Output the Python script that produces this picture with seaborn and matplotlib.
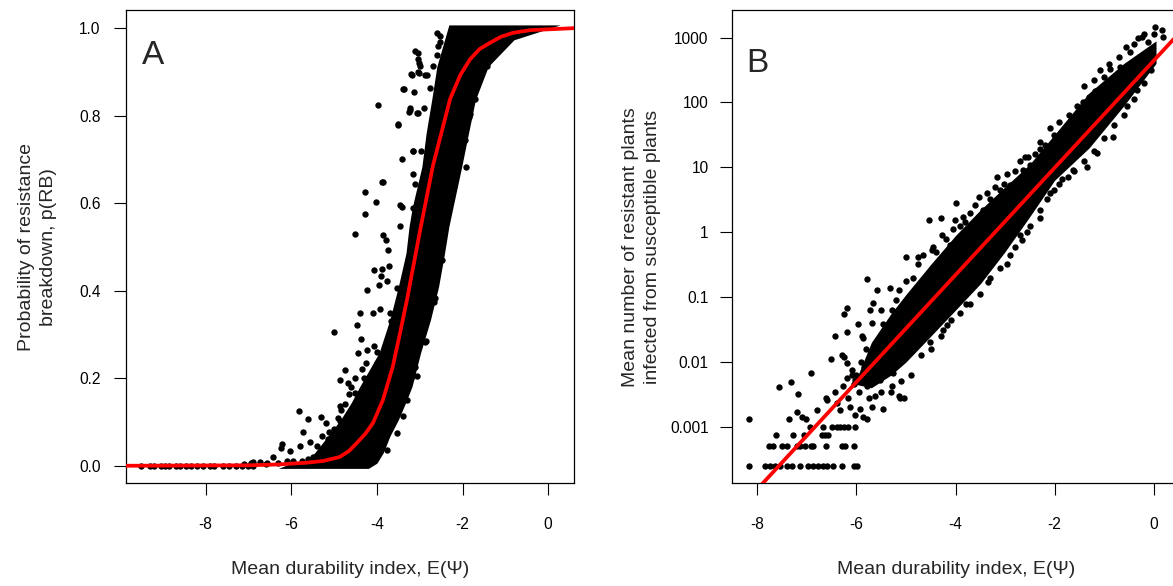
import numpy as np
import pandas as pd
import seaborn as sns
import matplotlib.pyplot as plt

# ---- panel A: probability of resistance breakdown ----
# dense core of the cloud (x range at each probability level)
a_band_y = [-0.006, 0.006, 0.014, 0.03, 0.067, 0.105, 0.144, 0.181, 0.258, 0.333, 0.409,
            0.486, 0.546, 0.592, 0.683, 0.76, 0.836, 0.912, 0.973, 1.007]
a_band_left = [-6.3, -6.0, -5.6, -5.45, -5.15, -4.85, -4.6, -4.4, -3.95, -3.7, -3.5,
               -3.32, -3.25, -3.17, -2.95, -2.85, -2.72, -2.6, -2.42, -2.32]
a_band_right = [-4.2, -4.0, -3.95, -3.85, -3.7, -3.5, -3.33, -3.18, -2.98, -2.75, -2.56,
                -2.42, -2.32, -2.22, -2.02, -1.86, -1.7, -1.4, -0.8, 0.28]

# scattered points around the core
a_pts_x = [-3.11, -3.03, -2.99, -3.19, -3.01, -2.84, -3.37, -3.13, -3.97, -3.23, -3.24, -3.03,
           -3.50, -3.15, -2.98, -3.42, -2.60, -2.53, -2.57, -2.68, -2.76,
           -3.87, -4.28, -4.01, -4.28, -4.51, -3.85, -3.79, -3.74, -3.46, -4.07, -3.87, -3.71,
           -3.91, -3.76, -4.23, -3.95, -3.54, -3.93, -3.46, -3.15, -3.11,
           -4.40, -4.09, -3.70, -5.01, -4.46, -3.66, -4.38, -4.06, -4.24, -4.44, -3.99, -4.26,
           -3.99, -4.75, -4.87, -4.67, -4.51, -4.65, -4.23, -4.02, -4.47, -4.87, -4.85, -5.82,
           -5.31, -5.61, -5.19, -4.87, -5.12, -5.72, -5.29, -5.57, -6.21, -6.23, -6.43, -6.04,
           -5.80, -6.89, -6.74, -6.57, -6.60, -6.30, -6.10,
           -2.88, -3.11, -2.95, -2.78, -2.45, -2.54, -2.64, -2.85, -3.07, -3.38, -3.54, -3.77,
           -1.75, -1.86, -1.94, -2.06, -1.43, -1.28, -2.21, -2.29, -2.41, -2.41, -2.49, -2.67,
           -1.92, -1.96, -2.10, -1.70, -1.82,
           -3.51, -3.85, -3.42, -3.15, -3.16, -3.38, -3.21, -3.03, -2.87, -3.03, -3.01, -2.52,
           -2.60, -2.48, -3.22, -3.07, -2.91,
           -5.50, -5.35, -5.20, -5.05, -4.95, -4.80, -4.70, -4.60, -4.55, -5.00, -5.15, -5.40,
           -5.60, -5.75, -5.95, -4.90, -4.75, -4.60, -4.50, -4.35, -4.30,
           -3.30, -3.20, -3.00, -2.80, -2.70, -2.35, -2.15, -1.60, -1.20,
           -9.50, -9.30, -9.20, -9.05, -8.95, -8.85, -8.70, -8.60, -8.45, -8.35, -8.20, -8.05,
           -7.90, -7.80, -7.60, -7.45, -7.30, -7.15, -7.00, -6.90, -7.10, -6.95]
a_pts_y = [0.948, 0.929, 0.913, 0.892, 0.897, 0.892, 0.860, 0.853, 0.824, 0.818, 0.809, 0.806,
           0.778, 0.720, 0.720, 0.701, 0.989, 0.982, 0.959, 0.913, 0.864,
           0.648, 0.626, 0.602, 0.576, 0.530, 0.526, 0.515, 0.492, 0.547, 0.448, 0.450, 0.456,
           0.433, 0.422, 0.402, 0.414, 0.407, 0.357, 0.595, 0.667, 0.644,
           0.349, 0.348, 0.349, 0.305, 0.322, 0.331, 0.289, 0.273, 0.264, 0.257, 0.260, 0.234,
           0.234, 0.219, 0.196, 0.188, 0.167, 0.163, 0.177, 0.179, 0.150, 0.137, 0.128, 0.124,
           0.112, 0.106, 0.097, 0.103, 0.078, 0.078, 0.067, 0.055, 0.050, 0.040, 0.021, 0.033,
           0.044, 0.008, 0.008, 0.006, 0.004, 0.006, 0.012,
           0.283, 0.226, 0.367, 0.364, 0.545, 0.470, 0.383, 0.284, 0.204, 0.113, 0.075, 0.037,
           0.839, 0.797, 0.744, 0.729, 0.912, 0.957, 0.638, 0.600, 0.573, 0.585, 0.469, 0.374,
           0.683, 0.777, 0.717, 0.838, 0.804,
           0.780, 0.649, 0.592, 0.588, 0.718, 0.860, 0.895, 0.900, 0.893, 0.942, 0.919, 0.969,
           0.938, 0.923, 0.813, 0.805, 0.817,
           0.020, 0.030, 0.025, 0.040, 0.050, 0.070, 0.090, 0.110, 0.125, 0.085, 0.060, 0.045,
           0.015, 0.010, 0.012, 0.110, 0.140, 0.180, 0.200, 0.220, 0.200,
           0.150, 0.200, 0.300, 0.400, 0.500, 0.700, 0.780, 0.920, 0.975,
           0.0, 0.0, 0.0, 0.0, 0.0, 0.0, 0.0, 0.0, 0.0, 0.0, 0.0, 0.0,
           0.0, 0.0, 0.0, 0.0, 0.0, 0.0, 0.0, 0.0, 0.004, 0.006]

# fitted curve
a_fit_x = [-9.9, -7.0, -6.3, -5.64, -5.25, -4.87, -4.65, -4.47, -4.27, -4.09, -3.86, -3.63,
           -3.46, -3.30, -2.99, -2.69, -2.60, -2.29, -2.05, -1.82, -1.60, -1.36, -1.10,
           -0.82, -0.42, 0.7]
a_fit_y = [0.0, 0.001, 0.003, 0.007, 0.011, 0.02, 0.034, 0.052, 0.073, 0.098, 0.15, 0.226,
           0.303, 0.378, 0.538, 0.686, 0.72, 0.838, 0.893, 0.929, 0.952, 0.966, 0.98,
           0.989, 0.995, 1.0]

# ---- panel B: resistant plants infected (log scale) ----
b_band_x = [-6.0, -5.7, -5.3, -5.0, -4.5, -4.0, -3.5, -3.0, -2.5, -2.0, -1.3, -0.6, 0.05]
b_band_lo = [0.0045, 0.004, 0.0063, 0.01, 0.025, 0.063, 0.16, 0.5, 1.74, 6.3, 20, 89, 400]
b_band_hi = [0.0055, 0.02, 0.056, 0.11, 0.32, 0.89, 2.2, 5.0, 11.2, 32, 141, 400, 890]

b_row1_x = [-8.17, -7.85, -7.75, -7.65, -7.55, -7.41, -7.30, -7.14, -6.98, -6.88, -6.78,
            -6.68, -6.60, -6.47, -6.30, -6.06, -5.99]
b_row2_x = [-7.76, -7.68, -7.51, -7.41, -7.21, -7.14, -7.04, -6.91, -6.88, -6.62, -6.30,
            -6.23, -6.06]
b_row3_x = [-7.63, -7.28, -7.07, -6.70, -6.64, -6.57]
b_row4_x = [-6.94, -6.67, -6.50, -6.40, -6.33, -6.25, -6.17, -6.03]
b_row_vals = [0.00025, 0.0005, 0.00075, 0.001]

b_pts_x = [-8.17, -7.36, -7.21, -7.11, -7.01, -6.79, -7.56, -7.33, -7.18, -6.91, -6.52,
           -6.43, -6.19, -6.29, -5.96, -5.69, -5.47, -5.89, -6.19, -6.10, -6.60, -6.40,
           -6.33, -6.13, -5.93, -5.79, -5.69, -6.03, -5.86, -6.20, -6.03, -5.79, -6.27,
           -6.43, -6.62, -6.17, -5.63, -5.46, -5.12, -5.05, -5.29, -5.53, -5.39, -5.26,
           -6.25, -6.20, -5.79, -5.59, -5.67, -5.73, -5.86, -5.28, -5.32, -5.14, -4.99,
           -4.75, -4.75, -5.14, -6.25, -3.99, -4.53, -4.30, -3.84, -3.81, -4.45, -4.48,
           -4.28, -4.11, -4.01, -3.52, -3.37, -3.20, -3.17, -3.03, -2.90, -3.44, -2.60,
           -2.49, -2.63, -3.34, -3.79, -4.18, -4.25, -4.52, -2.97, -2.66, -2.29, -2.80,
           -2.56, -2.53, -2.29, -2.19, -2.02, -1.97, -1.79, -1.59, -1.42, -1.30, -1.18,
           -1.08, -0.88, -0.81, -0.68, -0.47, -0.31, -0.11, 0.03, 0.17, 0.20, -0.24,
           -1.15, -1.35, -1.62, -1.72, -1.85, -0.81, -0.54, -0.34, -2.02, -2.16,
           # upper edge of the cloud
           -5.50, -5.20, -5.00, -4.85, -4.65, -4.40, -4.20, -4.05, -3.90, -3.70, -3.60,
           -3.30, -3.10, -2.95, -2.80, -2.70, -2.40, -2.30, -2.10, -1.90, -1.70, -1.55,
           -1.40, -1.20, -1.00, -0.90, -0.70, -0.55, -0.40, -0.20, 0.00,
           # lower edge of the cloud
           -5.50, -5.30, -5.10, -4.90, -4.70, -4.50, -4.30, -4.10, -3.90, -3.70, -3.50,
           -3.30, -3.10, -2.90, -2.70, -2.50, -2.30, -2.10, -1.90, -1.60, -1.40, -1.20,
           -1.00, -0.80, -0.60, -0.40, -0.20, -0.05,
           # sparse tail
           -5.90, -5.80, -5.60, -5.55, -5.70, -6.00, -5.95, -5.75, -5.50, -5.35, -5.20,
           -5.40, -5.10, -6.10, -5.85, -6.05]
b_pts_y = [0.0013, 0.0013, 0.0017, 0.0014, 0.0013, 0.0018, 0.0041, 0.0049, 0.0032, 0.0068, 0.011,
           0.025, 0.029, 0.013, 0.039, 0.040, 0.039, 0.025, 0.0095, 0.0076, 0.0026, 0.0023,
           0.0018, 0.0020, 0.0019, 0.0013, 0.0020, 0.0015, 0.0014, 0.0056, 0.0052, 0.0042, 0.0042,
           0.0035, 0.0028, 0.0028, 0.0030, 0.0019, 0.0028, 0.0028, 0.0042, 0.0052, 0.0068, 0.0068,
           0.055, 0.068, 0.19, 0.13, 0.081, 0.063, 0.023, 0.063, 0.14, 0.13, 0.42,
           0.41, 0.32, 0.0030, 0.012, 2.8, 1.55, 1.66, 1.74, 1.45, 0.60, 0.54,
           0.91, 0.63, 1.55, 3.5, 4.0, 5.0, 7.2, 5.6, 5.4, 2.2, 14.5,
           11, 9.1, 0.17, 0.079, 0.037, 0.031, 0.020, 0.32, 0.76, 1.66, 0.60,
           1.02, 14.5, 19.5, 22, 32, 29, 28, 54, 102, 123, 148,
           316, 324, 200, 355, 600, 980, 870, 1480, 1320, 1020, 1020,
           16.6, 10.2, 9.1, 7.2, 6.5, 29.5, 87, 155, 4.5, 3.2,
           0.063, 0.089, 0.18, 0.20, 0.45, 0.50, 0.79, 1.12, 1.26, 2.0, 2.6,
           3.2, 4.5, 7.9, 8.9, 12.6, 15.8, 25, 40, 50, 63, 89,
           178, 224, 251, 398, 501, 708, 794, 1122, 1122,
           0.0035, 0.0035, 0.005, 0.0063, 0.0126, 0.0158, 0.025, 0.045, 0.056, 0.079, 0.11,
           0.20, 0.28, 0.45, 0.89, 1.26, 2.2, 4.0, 5.6, 8.9, 12.6, 17.8,
           28, 45, 63, 112, 200, 316,
           0.01, 0.016, 0.0126, 0.0079, 0.0063, 0.0063, 0.0035, 0.0028, 0.01, 0.02, 0.028,
           0.032, 0.04, 0.0063, 0.0085, 0.0045]

# fitted line
b_fit_x = [-8.0, 0.6]
b_fit_y = [1.1e-4, 1370]

b_yticks = [0.001, 0.01, 0.1, 1, 10, 100, 1000]
b_yticklabels = ["0.001", "0.01", "0.1", "1", "10", "100", "1000"]

sns.set_style("ticks")
plt.rcParams['font.family'] = ['Liberation Sans', 'DejaVu Sans']
plt.rcParams['axes.unicode_minus'] = False

fig = plt.figure(figsize=(11.73, 5.86), dpi=100)
ax_a = fig.add_axes([0.1074, 0.1753, 0.3822, 0.8076])
ax_b = fig.add_axes([0.6238, 0.1753, 0.3822, 0.8076])

dot = 21
red = "#ff0000"

# panel A
ax_a.fill_betweenx(a_band_y, a_band_left, a_band_right, color="black", linewidth=0)
dfa = pd.DataFrame({"x": a_pts_x, "y": a_pts_y})
sns.scatterplot(data=dfa, x="x", y="y", color="black", s=dot, linewidth=0, ax=ax_a)
fa = pd.DataFrame({"x": a_fit_x, "y": a_fit_y})
sns.lineplot(data=fa, x="x", y="y", color=red, linewidth=2.7, sort=False,
             estimator=None, ax=ax_a, zorder=5)
ax_a.set_xlim(-9.86, 0.61)
ax_a.set_ylim(-0.04, 1.041)
ax_a.set_xticks([-8, -6, -4, -2, 0])
ax_a.set_yticks([0.0, 0.2, 0.4, 0.6, 0.8, 1.0])
ax_a.set_yticklabels(["0.0", "0.2", "0.4", "0.6", "0.8", "1.0"])
ax_a.set_ylabel("Probability of resistance\nbreakdown, p(RB)", fontsize=14, linespacing=1.35)
ax_a.yaxis.set_label_coords(-0.154, 0.5)
ax_a.text(0.035, 0.886, "A", transform=ax_a.transAxes, fontsize=24, va="baseline")
ax_a.tick_params(axis="y", pad=9.4)

# panel B
ax_b.set_yscale("log")
ax_b.fill_between(b_band_x, b_band_lo, b_band_hi, color="black", linewidth=0)
rows = pd.DataFrame({
    "x": b_row1_x + b_row2_x + b_row3_x + b_row4_x,
    "y": [b_row_vals[0]] * len(b_row1_x) + [b_row_vals[1]] * len(b_row2_x)
         + [b_row_vals[2]] * len(b_row3_x) + [b_row_vals[3]] * len(b_row4_x),
})
dfb = pd.concat([rows, pd.DataFrame({"x": b_pts_x, "y": b_pts_y})], ignore_index=True)
sns.scatterplot(data=dfb, x="x", y="y", color="black", s=dot, linewidth=0, ax=ax_b)
fb = pd.DataFrame({"x": b_fit_x, "y": b_fit_y})
sns.lineplot(data=fb, x="x", y="y", color=red, linewidth=2.7, sort=False,
             estimator=None, ax=ax_b, zorder=5)
ax_b.set_xlim(-8.52, 0.535)
ax_b.set_ylim(10 ** -3.87, 10 ** 3.425)
ax_b.set_xticks([-8, -6, -4, -2, 0])
ax_b.set_yticks(b_yticks)
ax_b.set_yticklabels(b_yticklabels)
ax_b.minorticks_off()
ax_b.set_ylabel("Mean number of resistant plants\ninfected from susceptible plants",
                fontsize=14, linespacing=1.35)
ax_b.yaxis.set_label_coords(-0.158, 0.5)
ax_b.text(0.0335, 0.870, "B", transform=ax_b.transAxes, fontsize=24, va="baseline")
ax_b.tick_params(axis="y", pad=7.7)

for ax in (ax_a, ax_b):
    ax.set_xlabel("Mean durability index, E(\u03a8)", fontsize=14)
    ax.xaxis.set_label_coords(0.5, -0.164)
    ax.tick_params(axis="both", direction="out", length=8.9, width=0.8,
                   color="black", labelsize=11.2, labelcolor="black")
    ax.tick_params(axis="x", pad=15.7)
    for sp in ax.spines.values():
        sp.set_visible(True)
        sp.set_color("black")
        sp.set_linewidth(0.9)

fig.savefig("out.png", dpi=100)
